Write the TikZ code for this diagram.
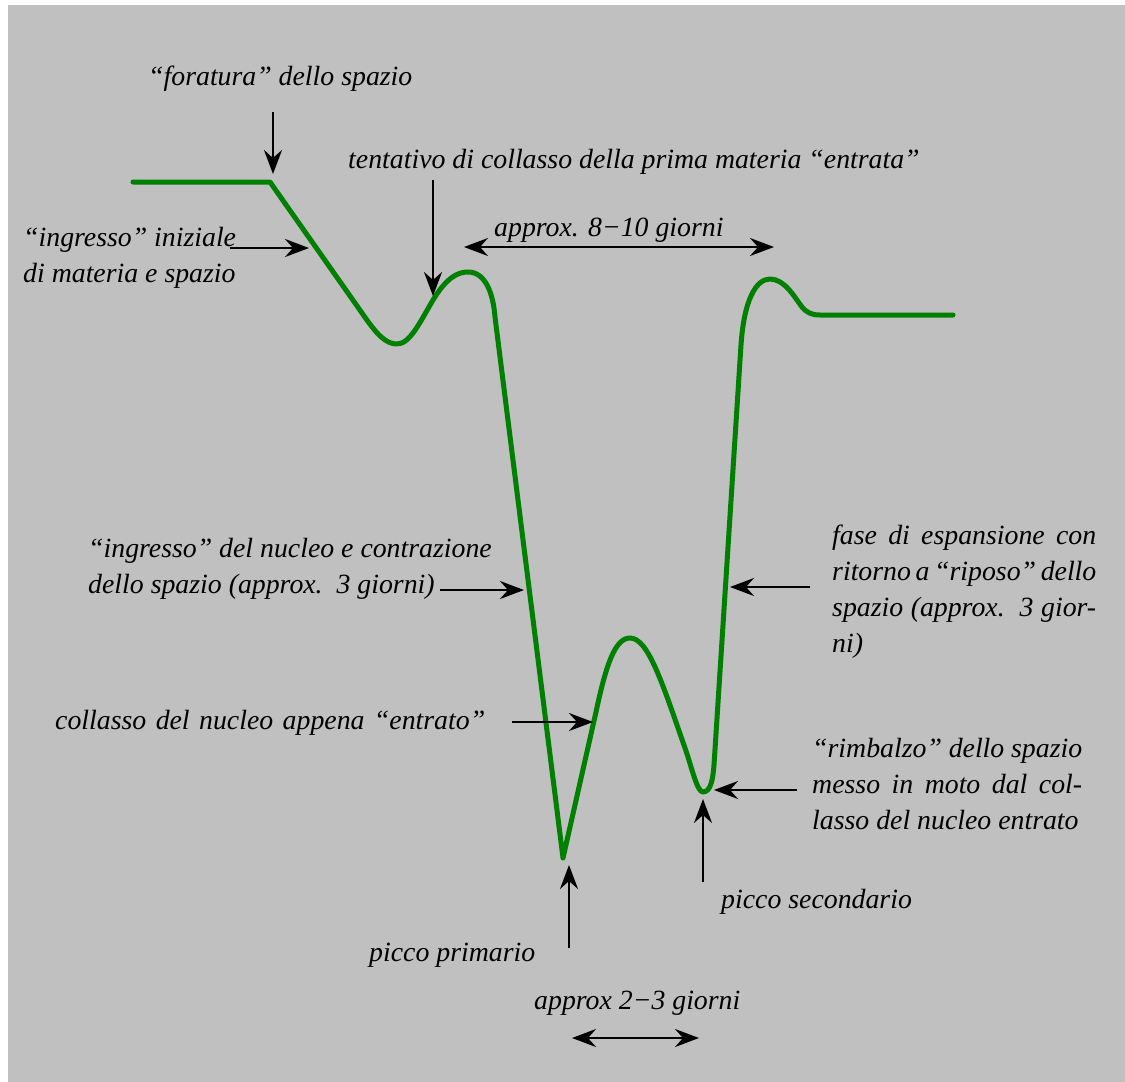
\documentclass[tikz,border=0pt]{standalone}
\usepackage{fontspec}
\setmainfont{Liberation Serif}
\usetikzlibrary{arrows.meta}
\definecolor{bggray}{RGB}{192,192,192}
\definecolor{curvegreen}{RGB}{0,128,0}
\begin{document}
\begin{tikzpicture}[x=1pt,y=-1pt,
  lbl/.style={anchor=base west,inner sep=0pt,align=left,font=\fontsize{27.8}{35.8}\selectfont\itshape},
  arr/.style={line width=2.4pt,-{Stealth[length=24pt,width=18pt,inset=8pt]}},
  darr/.style={line width=2.4pt,{Stealth[length=24pt,width=18pt,inset=8pt]}-{Stealth[length=24pt,width=18pt,inset=8pt]}},
  curve/.style={line width=5pt,curvegreen,line cap=round,line join=round}]
\useasboundingbox (0,0) rectangle (1125,1082);
\fill[white] (0,0) rectangle (1125,1082);
\fill[bggray] (8,5) rectangle (1125,1082);

% the curve
\draw[curve] (133,182) -- (270,182) -- (362,313)
  .. controls (377,335) and (386,344) .. (397,344)
  .. controls (410,344) and (420,322) .. (433,300)
  .. controls (447,277) and (458,272) .. (468,272)
  .. controls (485,272) and (493,292) .. (495,317)
  -- (563,858) -- (596,712)
  .. controls (606,665) and (615,638) .. (630,638)
  .. controls (648,638) and (662,682) .. (685,748)
  .. controls (692,768) and (697,792) .. (703,792)
  .. controls (711,792) and (713,778) .. (714,765)
  -- (741,345)
  .. controls (744,300) and (756,279) .. (770,279)
  .. controls (785,279) and (795,298) .. (802,307)
  .. controls (807,313) and (812,315) .. (820,315) -- (953,315);

% labels (base anchor = baseline of the last line)
\node[lbl] (forat) at (148,85) {“foratura” dello spazio};
\node[lbl] (tent) at (348,168) {tentativo di collasso della prima materia “entrata”};
\node[lbl] (ingr) at (23,282) {“ingresso” iniziale\\di materia e spazio};
\node[lbl] (otto) at (494,236) {approx. 8−10 giorni};
\node[lbl] (nucl) at (88,593) {“ingresso” del nucleo e contrazione\\dello spazio (approx.\ \ 3 giorni)};
\node[lbl] (fase) at (832,652) {\makebox[264pt][s]{fase di espansione con}\\\makebox[264pt][s]{ritorno a “riposo” dello}\\\makebox[264pt][s]{spazio (approx.\ \ 3 gior-}\\ni)};
\node[lbl] (coll) at (55,729) {\makebox[430pt][s]{collasso del nucleo appena “entrato”}};
\node[lbl] (rimb) at (812,829) {\makebox[270pt][s]{“rimbalzo” dello spazio}\\\makebox[270pt][s]{messo in moto dal col-}\\lasso del nucleo entrato};
\node[lbl] (psec) at (721,908) {picco secondario};
\node[lbl] (pprim) at (369,961) {picco primario};
\node[lbl] (due) at (534,1009) {approx 2−3 giorni};

% arrow end points
\coordinate (a1s) at (273,112); \coordinate (a1e) at (273,174);
\coordinate (a2s) at (433,180); \coordinate (a2e) at (433,296);
\coordinate (a3s) at (230,248); \coordinate (a3e) at (309,248);
\coordinate (a4s) at (464,247); \coordinate (a4e) at (774,247);
\coordinate (a5s) at (440,590); \coordinate (a5e) at (524,590);
\coordinate (a6s) at (810,587); \coordinate (a6e) at (730,587);
\coordinate (a7s) at (512,722); \coordinate (a7e) at (593,722);
\coordinate (a8s) at (797,790); \coordinate (a8e) at (714,790);
\coordinate (a9s) at (569,948); \coordinate (a9e) at (569,865);
\coordinate (a10s) at (703,882); \coordinate (a10e) at (703,799);
\coordinate (a11s) at (572,1038); \coordinate (a11e) at (699,1038);

\draw[arr] (a1s) -- (a1e);
\draw[arr] (a2s) -- (a2e);
\draw[arr] (a3s) -- (a3e);
\draw[darr] (a4s) -- (a4e);
\draw[arr] (a5s) -- (a5e);
\draw[arr] (a6s) -- (a6e);
\draw[arr] (a7s) -- (a7e);
\draw[arr] (a8s) -- (a8e);
\draw[arr] (a9s) -- (a9e);
\draw[arr] (a10s) -- (a10e);
\draw[darr] (a11s) -- (a11e);
\end{tikzpicture}
\end{document}
